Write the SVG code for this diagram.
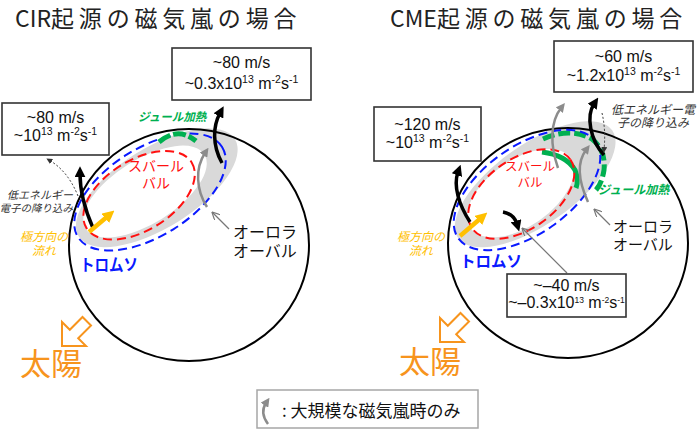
<svg xmlns="http://www.w3.org/2000/svg" width="700" height="430" viewBox="0 0 700 430">
<style>
.title{font-family:"Noto Sans CJK JP","Noto Sans",sans-serif;font-size:23px;fill:#222}
.bx{font-family:"Liberation Sans",Arial,sans-serif;font-size:16px;fill:#111;text-anchor:middle}
.sup{font-size:10.5px}
.box{fill:#fff;stroke:#333;stroke-width:1.6}
.earth{fill:none;stroke:#000;stroke-width:2}
.blue{fill:none;stroke:#0a1aff;stroke-width:2;stroke-dasharray:9 5}
.red{fill:none;stroke:#ff1010;stroke-width:2;stroke-dasharray:9 5}
.band{fill:#d9d9d9;fill-rule:evenodd}
.blk{fill:none;stroke:#000;stroke-width:3.5;marker-end:url(#mb)}
.gry{fill:none;stroke:#8c8c8c;stroke-width:2.5;marker-end:url(#mg)}
.yel{fill:none;stroke:#ffc000;stroke-width:4.5;marker-end:url(#my)}
.dot{fill:none;stroke:#333;stroke-width:1;stroke-dasharray:2 2;marker-end:url(#mt)}
.thin{fill:none;stroke:#777;stroke-width:1.2;marker-end:url(#mt2)}
.grn{fill:none;stroke:#00b050;stroke-width:5}
.lbl{font-family:"Noto Sans CJK JP","Noto Sans",sans-serif}
.sun{font-family:"Noto Sans CJK JP","Noto Sans",sans-serif;font-size:31px;fill:#f7941d}
.sunarrow{fill:#fff;stroke:#f7941d;stroke-width:2}
</style>
<defs>
<marker id="mb" viewBox="0 0 10 10" refX="3" refY="5" markerUnits="userSpaceOnUse" markerWidth="11" markerHeight="11" orient="auto"><path d="M0,0 L10,5 L0,10 z" fill="#000"/></marker>
<marker id="mg" viewBox="0 0 10 10" refX="3" refY="5" markerUnits="userSpaceOnUse" markerWidth="9" markerHeight="9" orient="auto"><path d="M0,0 L10,5 L0,10 z" fill="#8c8c8c"/></marker>
<marker id="my" viewBox="0 0 10 10" refX="3" refY="5" markerUnits="userSpaceOnUse" markerWidth="12" markerHeight="12" orient="auto"><path d="M0,0 L10,5 L0,10 z" fill="#ffc000"/></marker>
<marker id="mt" viewBox="0 0 10 10" refX="5" refY="5" markerUnits="userSpaceOnUse" markerWidth="6" markerHeight="6" orient="auto"><path d="M0,0 L10,5 L0,10 z" fill="#333"/></marker>
<marker id="mt2" viewBox="0 0 10 10" refX="8" refY="5" markerUnits="userSpaceOnUse" markerWidth="8" markerHeight="8" orient="auto"><path d="M0,0 L10,5 L0,10" fill="none" stroke="#777" stroke-width="1.5"/></marker>
</defs>
<rect width="700" height="430" fill="#fff"/>

<!-- Titles -->
<text id="title-cir" class="title" x="15" y="27">CIR<tspan letter-spacing="4.8">起源の磁気嵐の場合</tspan></text>
<text id="title-cme" class="title" x="390" y="27">CME<tspan letter-spacing="4.8">起源の磁気嵐の場合</tspan></text>

<!-- LEFT PANEL -->
<g id="left-earth">
<g transform="translate(150,192) rotate(-32)">
<path class="band" d="M-84,0 a92,40 0 1,0 184,0 a92,40 0 1,0 -184,0 Z M-74,-3 a70,32 0 1,0 140,0 a70,32 0 1,0 -140,0 Z"/>
</g>
<ellipse class="earth" cx="189" cy="245" rx="120" ry="116"/>
<g transform="translate(150,192) rotate(-32)">
<ellipse class="red" cx="-11" cy="-3" rx="62" ry="35"/>
<ellipse class="blue" cx="0" cy="0" rx="85" ry="44"/>
</g>
</g>
<g id="left-connectors">
<path class="grn" d="M159,142 Q178,126 196,141" stroke-dasharray="13 3"/>
<path class="blk" d="M93,228 C86,212 80,192 80,174"/>
<path class="blk" d="M222,163 C212,145 213,126 220,113"/>
<path class="dot" d="M78,196 Q68,171 49,160"/>
<path class="yel" d="M89,232 L108,216"/>
<path class="gry" d="M207,207 C196,190 195,168 205,153"/>
<path class="thin" d="M229,229 L213,213"/>
</g>
<g id="left-labels">
<text class="lbl" x="156" y="171" font-size="14" fill="#ff1010" text-anchor="middle">スバール</text>
<text class="lbl" x="156" y="188" font-size="14" fill="#ff1010" text-anchor="middle">バル</text>
<text class="lbl" x="80" y="271" font-size="16.5" font-weight="bold" fill="#0a1aff" textLength="58" lengthAdjust="spacingAndGlyphs">トロムソ</text>
<text class="lbl" x="233" y="238" font-size="16" fill="#111">オーロラ</text>
<text class="lbl" x="233" y="257" font-size="16" fill="#111">オーバル</text>
<text class="lbl" x="44" y="241" font-size="12" fill="#ffc000" font-style="italic" text-anchor="middle">極方向の</text>
<text class="lbl" x="44" y="255" font-size="12" fill="#ffc000" font-style="italic" text-anchor="middle">流れ</text>
<text class="lbl" x="73" y="199" font-size="11" fill="#333" font-style="italic" text-anchor="end">低エネルギー</text>
<text class="lbl" x="73" y="212" font-size="10.5" fill="#333" font-style="italic" text-anchor="end">電子の降り込み</text>
<text class="lbl" x="138" y="121" font-size="11.5" fill="#00b050" font-style="italic" font-weight="bold">ジュール加熱</text>
</g>
<g id="left-box-top">
<rect class="box" x="172" y="48" width="139" height="52"/>
<text class="bx" x="241.5" y="68">~80 m/s</text>
<text class="bx" x="241.5" y="89">~0.3x10<tspan class="sup" dy="-6">13</tspan><tspan dy="6"> m</tspan><tspan class="sup" dy="-6">-2</tspan><tspan dy="6">s</tspan><tspan class="sup" dy="-6">-1</tspan></text>
</g>
<g id="left-box-left">
<rect class="box" x="2" y="103" width="107" height="52"/>
<text class="bx" x="55.5" y="123">~80 m/s</text>
<text class="bx" x="55.5" y="141">~10<tspan class="sup" dy="-6">13</tspan><tspan dy="6"> m</tspan><tspan class="sup" dy="-6">-2</tspan><tspan dy="6">s</tspan><tspan class="sup" dy="-6">-1</tspan></text>
</g>
<g id="left-sun">
<polygon class="sunarrow" points="62,346 62,322 69.8,329.8 82.5,317 91,325.5 78.2,338.2 86,346"/>
<text class="sun" x="20" y="375">太陽</text>
</g>

<!-- RIGHT PANEL -->
<g id="right-earth">
<g transform="translate(527,190) rotate(-35)">
<path class="band" d="M-84,0 a94,40 0 1,0 188,0 a94,40 0 1,0 -188,0 Z M-68,-1 a61,33 0 1,0 122,0 a61,33 0 1,0 -122,0 Z"/>
</g>
<ellipse class="earth" cx="568" cy="243" rx="120" ry="115"/>
<path class="grn" d="M543,139 Q570,127 592,139 Q606,150 604,170 Q602,183 596,190" stroke-dasharray="12 4"/>
<path class="grn" d="M542,152 Q566,155 575,170 Q579,180 576,188"/>
<g transform="translate(527,190) rotate(-35)">
<ellipse class="red" cx="-7" cy="0" rx="60" ry="35"/>
<ellipse class="blue" cx="0" cy="0" rx="84" ry="44"/>
</g>
</g>
<g id="right-connectors">
<path class="blk" d="M470,222 C459,205 453,186 458,172"/>
<path class="yel" d="M460,236 L481,218"/>
<path class="blk" d="M503,212 Q514,214 517,224"/>
<path class="thin" d="M567,273 L523,229"/>
<path class="blk" d="M604,155 C590,140 586,116 594,104"/>
<path class="dot" d="M602,113 Q606,130 604,150"/>
<path class="gry" d="M558,168 C550,145 550,122 561,108"/>
<path class="gry" d="M588,202 C578,180 577,162 586,150"/>
<path class="thin" d="M610,225 L595,210"/>
</g>
<g id="right-labels">
<text class="lbl" x="530" y="171" font-size="12.5" fill="#ff1010" text-anchor="middle">スバール</text>
<text class="lbl" x="530" y="186.5" font-size="12.5" fill="#ff1010" text-anchor="middle">バル</text>
<text class="lbl" x="460" y="267" font-size="16" font-weight="bold" fill="#0a1aff" textLength="62" lengthAdjust="spacingAndGlyphs">トロムソ</text>
<text class="lbl" x="613" y="232" font-size="15" fill="#111">オーロラ</text>
<text class="lbl" x="613" y="250" font-size="15" fill="#111">オーバル</text>
<text class="lbl" x="421" y="241" font-size="12" fill="#ffc000" font-style="italic" text-anchor="middle">極方向の</text>
<text class="lbl" x="421" y="255" font-size="12" fill="#ffc000" font-style="italic" text-anchor="middle">流れ</text>
<text class="lbl" x="653" y="114" font-size="12" fill="#333" font-style="italic" text-anchor="middle">低エネルギー電</text>
<text class="lbl" x="653" y="127" font-size="12" fill="#333" font-style="italic" text-anchor="middle">子の降り込み</text>
<text class="lbl" x="598" y="194" font-size="12" fill="#00b050" font-style="italic" font-weight="bold">ジュール加熱</text>
</g>
<g id="right-box-top">
<rect class="box" x="554" y="41" width="139" height="51"/>
<text class="bx" x="623.5" y="62">~60 m/s</text>
<text class="bx" x="623.5" y="81">~1.2x10<tspan class="sup" dy="-6">13</tspan><tspan dy="6"> m</tspan><tspan class="sup" dy="-6">-2</tspan><tspan dy="6">s</tspan><tspan class="sup" dy="-6">-1</tspan></text>
</g>
<g id="right-box-left">
<rect class="box" x="374" y="107" width="107" height="54"/>
<text class="bx" x="427.5" y="130">~120 m/s</text>
<text class="bx" x="427.5" y="148">~10<tspan class="sup" dy="-6">13</tspan><tspan dy="6"> m</tspan><tspan class="sup" dy="-6">-2</tspan><tspan dy="6">s</tspan><tspan class="sup" dy="-6">-1</tspan></text>
</g>
<g id="right-box-bottom">
<rect class="box" x="507" y="274" width="119" height="43" stroke="#444"/>
<text class="bx" x="566.5" y="291" font-size="12.5">~–40 m/s</text>
<text class="bx" x="566.5" y="308" font-size="12.5">~–0.3x10<tspan font-size="8.5" dy="-5">13</tspan><tspan dy="5"> m</tspan><tspan font-size="8.5" dy="-5">-2</tspan><tspan dy="5">s</tspan><tspan font-size="8.5" dy="-5">-1</tspan></text>
</g>
<g id="right-sun">
<polygon class="sunarrow" points="440,342 440,318 447.8,325.8 460.5,313 469,321.5 456.2,334.2 464,342"/>
<text class="sun" x="399" y="373">太陽</text>
</g>

<!-- Legend -->
<g id="legend">
<rect x="257" y="390" width="221" height="38" fill="#fff" stroke="#a6a6a6" stroke-width="1.5"/>
<path class="gry" d="M268,424 C262,416 262,409 266,403"/>
<text class="lbl" x="282" y="417" font-size="17" fill="#111">: 大規模な磁気嵐時のみ</text>
</g>
</svg>
